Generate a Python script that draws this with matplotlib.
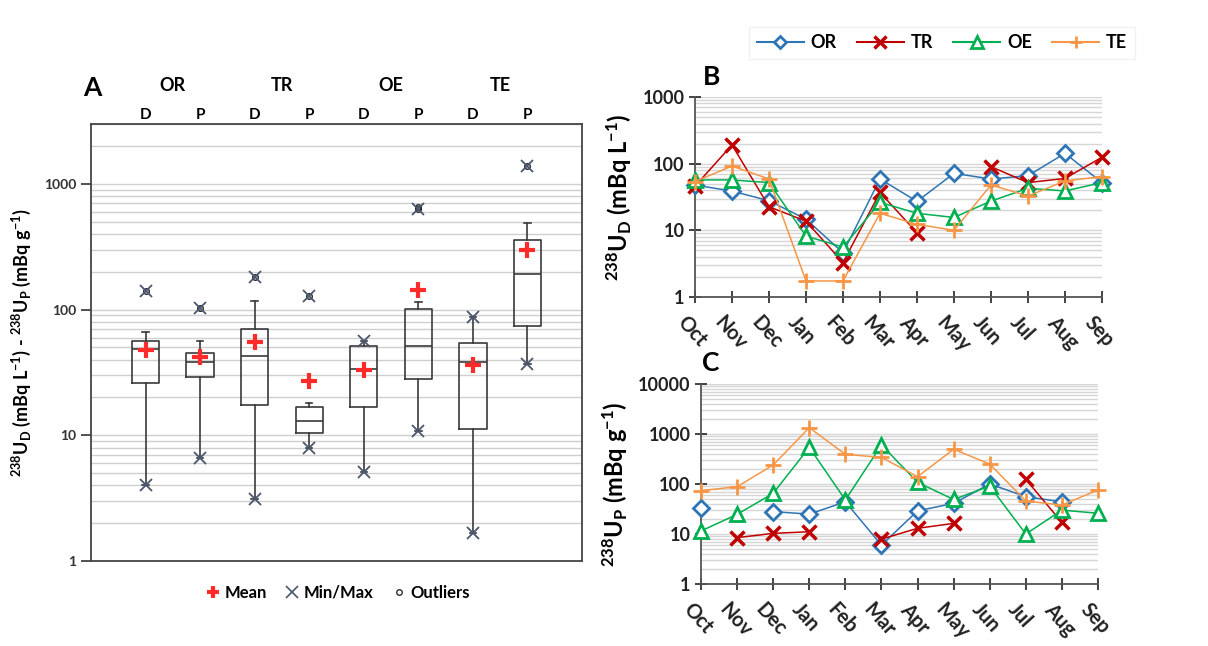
import numpy as np
import matplotlib
matplotlib.use("Agg")
import matplotlib.pyplot as plt
from matplotlib.lines import Line2D
from matplotlib.ticker import LogLocator, FixedLocator, NullFormatter
import matplotlib.transforms as mtransforms

plt.rcParams['font.family'] = ['Lato', 'DejaVu Sans']
plt.rcParams['mathtext.fontset'] = 'custom'
plt.rcParams['mathtext.rm'] = 'Lato:bold'
plt.rcParams['mathtext.bf'] = 'Lato:bold'
plt.rcParams['mathtext.it'] = 'Lato:bold'
plt.rcParams['mathtext.default'] = 'bf'

# ---------------- Panel A data (box plots) ----------------
groups = ["OR", "TR", "OE", "TE"]
box_labels = ["D", "P", "D", "P", "D", "P", "D", "P"]
box_q1 = [26, 29.3, 17.4, 10.4, 16.7, 28, 11.2, 74.5]
box_med = [48.4, 38.5, 43, 13.1, 33.7, 51.4, 38.5, 192]
box_q3 = [56.3, 45.5, 70.6, 16.7, 51.4, 101, 54, 358]
box_whislo = [4.03, 6.56, 3.1, 7.97, 5.08, 10.9, 1.66, 37]
box_whishi = [66.8, 56, 118, 18, 56.3, 114, 88, 492]
box_mean = [48, 41.9, 55, 27, 33, 143, 36, 298]
box_min = [4.03, 6.56, 3.1, 7.97, 5.08, 10.9, 1.66, 37]
box_max = [141, 102.6, 183, 129, 56.3, 629, 88, 1390]
box_outliers = [[141], [102.6], [183], [129], [], [629, 650], [], [1390]]

# ---------------- Panels B & C data ----------------
months = ["Oct", "Nov", "Dec", "Jan", "Feb", "Mar", "Apr", "May", "Jun", "Jul", "Aug", "Sep"]
nan = np.nan
UD_OR = [47.8, 38.8, 27.8, 14.7, 4.6, 58.9, 27.2, 71.6, 58.9, 66, 143, 51.9]
UD_TR = [46, 191, 22.6, 13.7, 3.29, 37, 9.18, nan, 90, 52, 60, 125]
UD_OE = [57, 57, 52, 8.2, 5.6, 26.3, 18, 15.6, 27.5, 42.7, 39, 52]
UD_TE = [54, 92, 59, 1.74, 1.74, 18, 12.3, 10, 48, 32.7, 55, 64]

UP_OR = [33.6, nan, 28, 25, 44, 6.0, 29, 41, 100, 55.8, 44, nan]
UP_TR = [nan, 8.45, 10.3, 11.1, nan, 7.9, 13, 16.3, nan, 124, 17, nan]
UP_OE = [11.5, 24.7, 65, 541, 48, 603, 108, 49, 91, 10, 30, 26]
UP_TE = [73.6, 88.4, 240, 1339, 392, 341, 140, 494, 251, 45.7, 38, 75.9]

series_names = ["OR", "TR", "OE", "TE"]
colors = {"OR": "#2e75b6", "TR": "#c00000", "OE": "#00b050", "TE": "#f79646"}
mstyle = {
    "OR": dict(marker="D", ms=8, mew=2.0, mfc="white"),
    "TR": dict(marker="x", ms=10, mew=2.5),
    "OE": dict(marker="^", ms=10, mew=2.0, mfc="white"),
    "TE": dict(marker="+", ms=11, mew=2.0),
}
legstyle = {
    "OR": dict(marker="D", ms=6, mew=2.0, mfc="white"),
    "TR": dict(marker="x", ms=8, mew=2.5),
    "OE": dict(marker="^", ms=8, mew=2.0, mfc="white"),
    "TE": dict(marker="+", ms=9, mew=2.0),
}

fig = plt.figure(figsize=(12.08, 6.46), dpi=100)
fig.patch.set_facecolor("white")

# ---------------- Panel A ----------------
axA = fig.add_axes([91/1208, 1-561/646, (582-91)/1208, (561-124)/646])
axA.set_yscale("log")
axA.set_ylim(1, 3000)
axA.set_xlim(0, 9)
positions = np.arange(1, len(box_labels)+1)
stats = []
for i in range(len(box_labels)):
    stats.append(dict(med=box_med[i], q1=box_q1[i], q3=box_q3[i],
                      whislo=box_whislo[i], whishi=box_whishi[i],
                      mean=box_mean[i], fliers=box_outliers[i]))
dark = "#3a3a3a"
axA.bxp(stats, positions=positions, widths=0.5, showmeans=True, showfliers=True,
        capwidths=0.12,
        boxprops=dict(color=dark, lw=1.2),
        whiskerprops=dict(color=dark, lw=1.2),
        capprops=dict(color=dark, lw=1.2),
        medianprops=dict(color=dark, lw=1.2),
        meanprops=dict(marker="+", ms=11, mew=3, color="#ff2a2a", mec="#ff2a2a"),
        flierprops=dict(marker="o", ms=4, mfc="none", mec="#202020", mew=1.0),
        zorder=3)
axA.plot(positions, box_min, ls="none", marker="x", ms=9, mew=1.3, color="#4b5670", zorder=4)
axA.plot(positions, box_max, ls="none", marker="x", ms=9, mew=1.3, color="#4b5670", zorder=4)

axA.yaxis.set_major_locator(FixedLocator([1, 10, 100, 1000]))
axA.yaxis.set_minor_locator(LogLocator(base=10, subs=np.arange(2, 10)))
axA.yaxis.set_minor_formatter(NullFormatter())
axA.set_yticklabels(["1", "10", "100", "1000"])
axA.tick_params(axis="y", which="major", direction="out", length=7, width=1.2,
                labelsize=10, colors="#333333")
axA.tick_params(axis="y", which="minor", length=0)
for lab in axA.get_yticklabels():
    lab.set_fontweight("bold")
axA.set_xticks([])
axA.grid(True, which="both", axis="y", color="#cfcfcf", lw=1.0, zorder=0)
axA.set_axisbelow(True)
for s in axA.spines.values():
    s.set_color("#444444")
    s.set_linewidth(1.3)
axA.set_ylabel(r"$^{238}$U$_D$ (mBq L$^{-1}$) - $^{238}$U$_P$ (mBq g$^{-1}$)",
               fontsize=13, fontweight="bold", labelpad=8)

trA = mtransforms.blended_transform_factory(axA.transData, axA.transAxes)
for i, lab in enumerate(box_labels):
    axA.text(positions[i], 1.005, lab, transform=trA, ha="center", va="bottom",
             fontsize=11, fontweight="bold")
for g, name in enumerate(groups):
    axA.text(positions[2*g] + 0.5, 1.087, name, transform=trA, ha="center", va="center",
             fontsize=13, fontweight="bold")
fig.text(92/1208, 1-88/646, "A", fontsize=19, fontweight="bold", ha="center", va="center")

legA_handles = [
    Line2D([], [], ls="none", marker="+", ms=9, mew=3, color="#ff2a2a"),
    Line2D([], [], ls="none", marker="x", ms=9, mew=1.2, color="#4b5670"),
    Line2D([], [], ls="none", marker="o", ms=4, mfc="none", mec="#303030"),
]
axA.legend(legA_handles, ["Mean", "Min/Max", "Outliers"], loc="upper center",
           bbox_to_anchor=(0.5, -0.02), ncol=3, frameon=False,
           prop=dict(weight="bold", size=12), handletextpad=0.1, columnspacing=0.9,
           handlelength=1.2)


def line_panel(ax, data, ylim, yticks, ylabel):
    x = np.arange(len(months))
    for name, vals in zip(series_names, data):
        ax.plot(x, vals, color=colors[name], lw=1.1, mec=colors[name],
                zorder=3, clip_on=False, **mstyle[name])
    ax.set_yscale("log")
    ax.set_ylim(*ylim)
    ax.set_xlim(0, len(months)-1)
    ax.yaxis.set_major_locator(FixedLocator(yticks))
    ax.yaxis.set_minor_locator(LogLocator(base=10, subs=np.arange(2, 10)))
    ax.yaxis.set_minor_formatter(NullFormatter())
    ax.set_yticklabels([str(t) for t in yticks])
    ax.tick_params(axis="y", which="major", direction="inout", length=8, width=1.2,
                   labelsize=13, colors="#222222")
    ax.tick_params(axis="y", which="minor", length=0)
    for lab in ax.get_yticklabels():
        lab.set_fontweight("bold")
    ax.set_xticks(x)
    ax.set_xticklabels(months, rotation=-48, ha="left", va="top",
                       rotation_mode="anchor", fontsize=14.5, fontweight="bold")
    ax.tick_params(axis="x", direction="inout", length=8, width=1.2, pad=7, colors="#222222")
    ax.grid(True, which="both", axis="y", color="#d6d6d6", lw=1.0, zorder=0)
    ax.set_axisbelow(True)
    for s in ["top", "right"]:
        ax.spines[s].set_visible(False)
    for s in ["left", "bottom"]:
        ax.spines[s].set_color("#555555")
        ax.spines[s].set_linewidth(1.3)
    ax.set_ylabel(ylabel, fontsize=17, fontweight="bold", labelpad=6)
    for lab in ax.get_xticklabels():
        lab.set_transform(lab.get_transform() + mtransforms.ScaledTranslation(-7/100, 0, fig.dpi_scale_trans))


# ---------------- Panel B ----------------
axB = fig.add_axes([695/1208, 1-297/646, (1102-695)/1208, (297-97)/646])
line_panel(axB, [UD_OR, UD_TR, UD_OE, UD_TE], (1, 1000), [1, 10, 100, 1000],
           r"$^{238}$U$_D$ (mBq L$^{-1}$)")
fig.text(712/1208, 1-77/646, "B", fontsize=19, fontweight="bold", ha="center", va="center")

# ---------------- Panel C ----------------
axC = fig.add_axes([701/1208, 1-584/646, (1098-701)/1208, (584-384)/646])
line_panel(axC, [UP_OR, UP_TR, UP_OE, UP_TE], (1, 10000), [1, 10, 100, 1000, 10000],
           r"$^{238}$U$_P$ (mBq g$^{-1}$)")
fig.text(711/1208, 1-363/646, "C", fontsize=19, fontweight="bold", ha="center", va="center")

# ---------------- Top legend ----------------
leg_handles = [Line2D([], [], color=colors[n], lw=1.5, mec=colors[n], **legstyle[n])
               for n in series_names]
fig.legend(leg_handles, series_names, loc="center", bbox_to_anchor=(942/1208, 1-43/646),
           ncol=4, frameon=True, edgecolor="#eeeeee", fancybox=False,
           prop=dict(weight="bold", size=13), handlelength=2.6, handletextpad=0.4,
           columnspacing=1.1)

fig.savefig("out.png", dpi=100, facecolor="white")
